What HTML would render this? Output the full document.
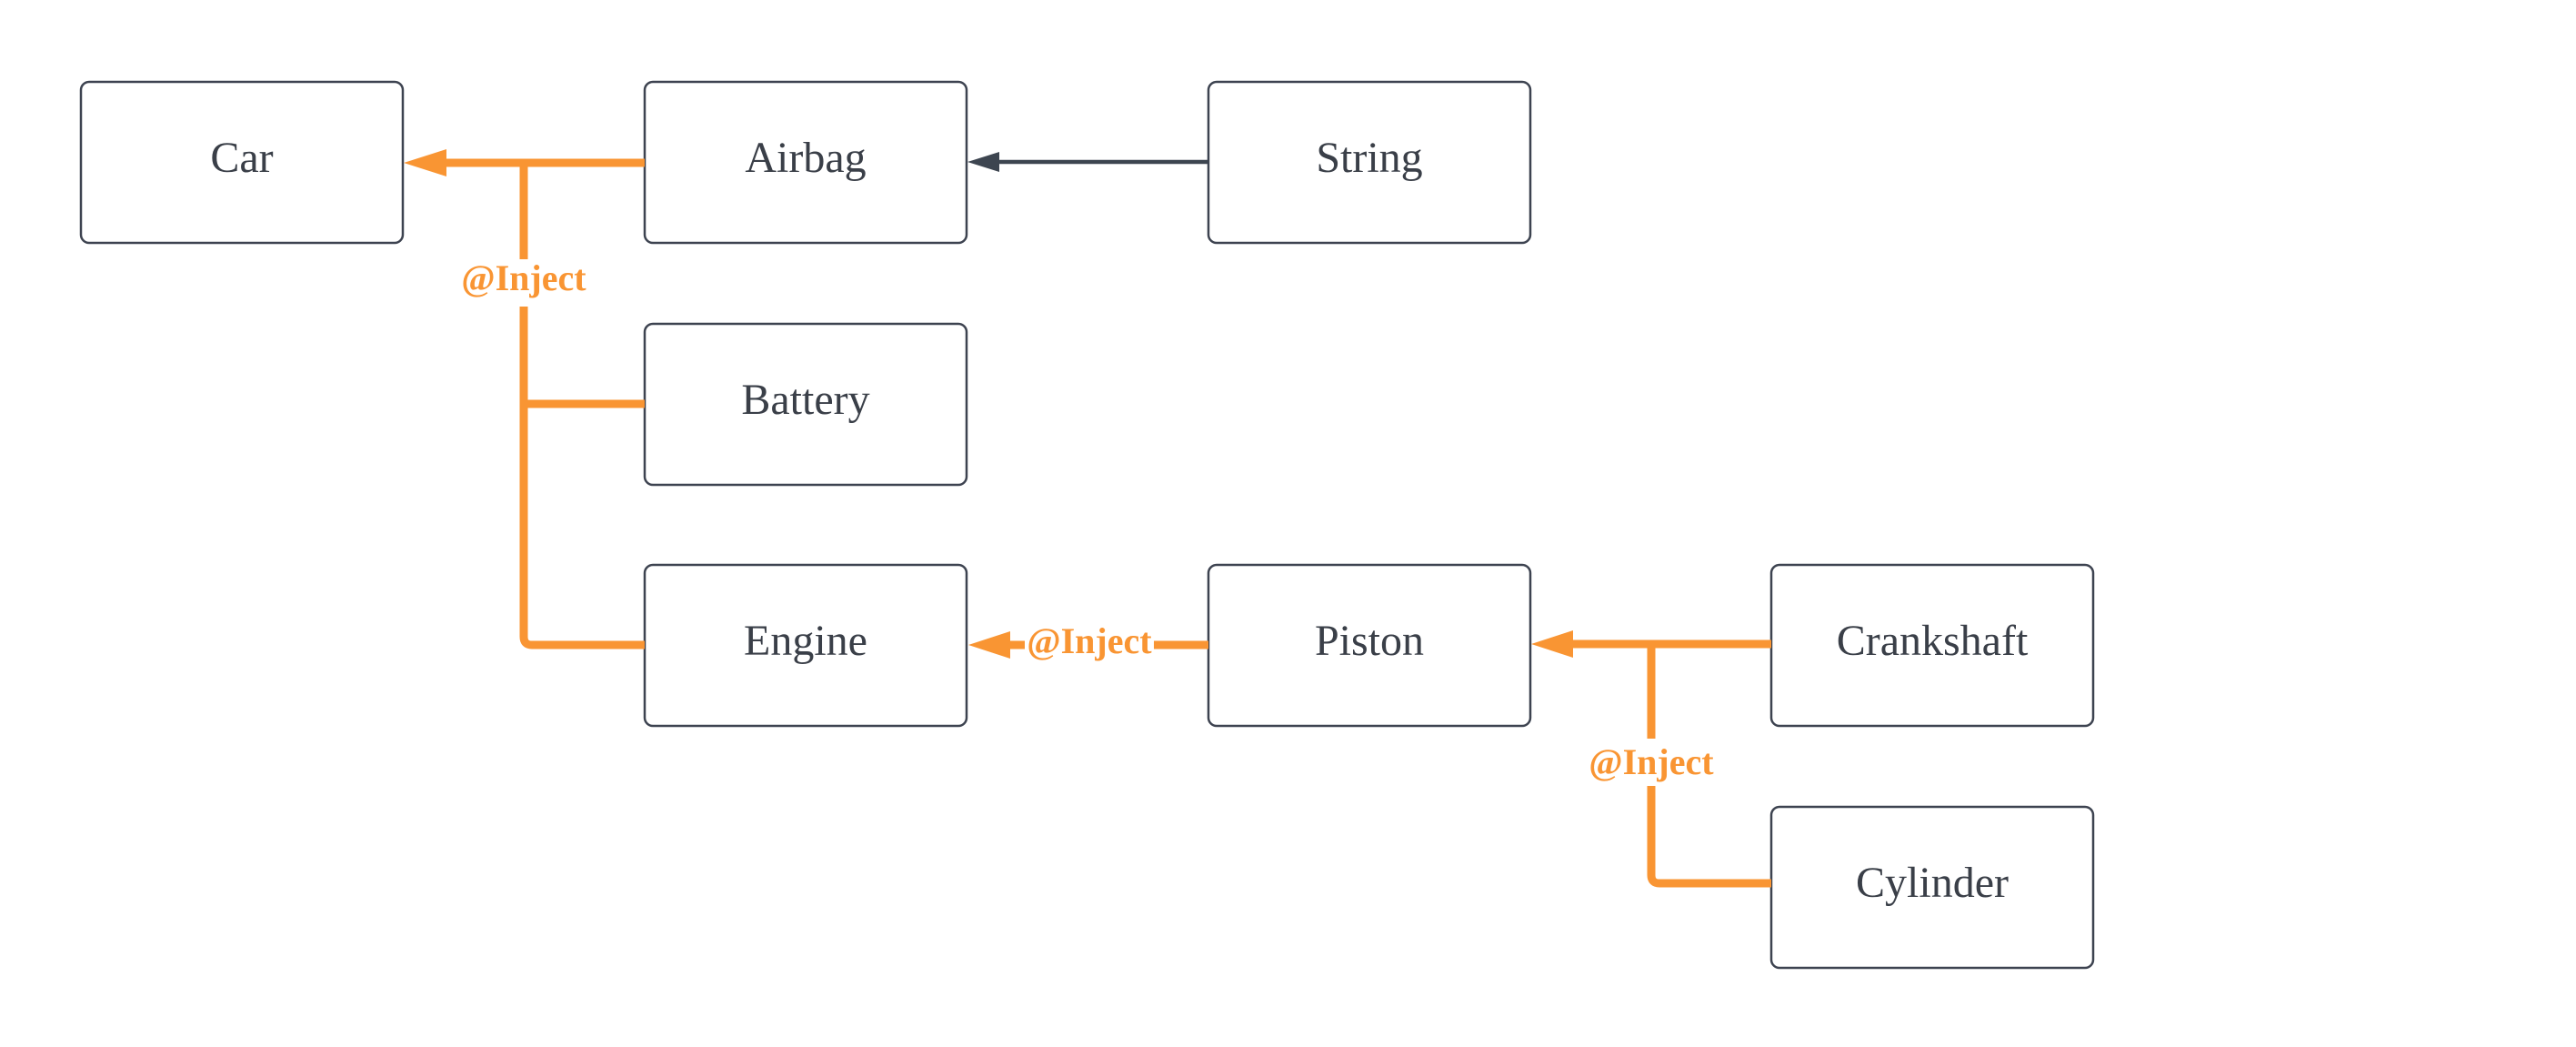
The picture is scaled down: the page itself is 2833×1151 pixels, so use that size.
<!DOCTYPE html>
<html><head><meta charset="utf-8"><style>
html,body{margin:0;padding:0;background:#fff;}
svg{display:block;}
</style></head><body>
<svg width="2833" height="1151" viewBox="0 0 2833 1151" xmlns="http://www.w3.org/2000/svg">
<g fill="#fff" stroke="#3d4350" stroke-width="2.5">
<rect x="89" y="90" width="354" height="177" rx="9"/>
<rect x="709" y="90" width="354" height="177" rx="9"/>
<rect x="1329" y="90" width="354" height="177" rx="9"/>
<rect x="709" y="356" width="354" height="177" rx="9"/>
<rect x="709" y="621" width="354" height="177" rx="9"/>
<rect x="1329" y="621" width="354" height="177" rx="9"/>
<rect x="1948" y="621" width="354" height="177" rx="9"/>
<rect x="1948" y="887" width="354" height="177" rx="9"/>
</g>
<g font-family="'Liberation Serif', serif" font-size="48" fill="#3a3f48" text-anchor="middle">
<text x="266" y="189">Car</text>
<text x="886" y="189">Airbag</text>
<text x="1506" y="189">String</text>
<text x="886" y="455">Battery</text>
<text x="886" y="720">Engine</text>
<text x="1506" y="720">Piston</text>
<text x="2125" y="720">Crankshaft</text>
<text x="2125" y="986">Cylinder</text>
</g>
<!-- dark arrow -->
<line x1="1328" y1="178" x2="1095" y2="178" stroke="#3d4550" stroke-width="4.5"/>
<polygon points="1064,178 1099,167 1099,189" fill="#3d4550"/>
<g fill="none" stroke="#f99533" stroke-width="9">
<path d="M709,179 H485"/>
<path d="M576,179 V700 Q576,709 585,709 H709"/>
<path d="M576,444 H709"/>
<path d="M1329,709 H1105"/>
<path d="M1948,708 H1725"/>
<path d="M1816,708 V962 Q1816,971 1825,971 H1948"/>
</g>
<g fill="#f99533">
<polygon points="444,179 491,164 491,194"/>
<polygon points="1065,709 1111,694 1111,724"/>
<polygon points="1684,708 1730,693 1730,723"/>
</g>
<g fill="#fff">
<rect x="505" y="285" width="142" height="52"/>
<rect x="1127" y="682" width="142" height="52"/>
<rect x="1745" y="812" width="142" height="52"/>
</g>
<g font-family="'Liberation Serif', serif" font-size="40" font-weight="bold" fill="#f99533" text-anchor="middle">
<text x="576" y="319">@Inject</text>
<text x="1198" y="718">@Inject</text>
<text x="1816" y="851">@Inject</text>
</g>
</svg>
</body></html>
